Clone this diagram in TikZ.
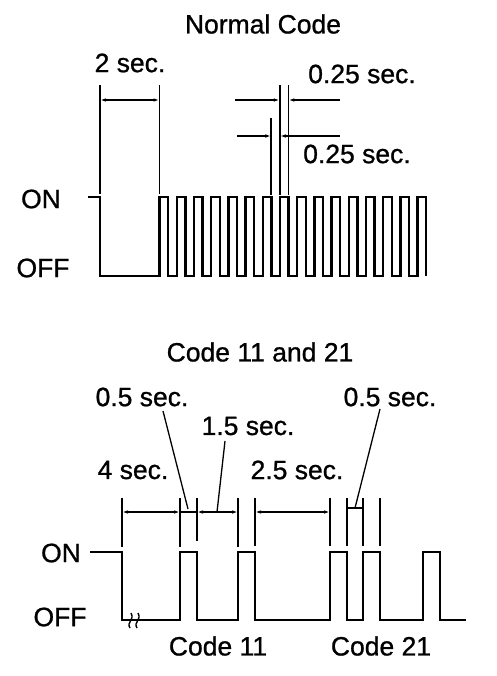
\documentclass[tikz,border=0pt]{standalone}
\usepackage{fontspec}
\setmainfont{Liberation Sans}[BoldFont=Liberation Sans, BoldFeatures={FakeBold=0.9}]
\usetikzlibrary{arrows.meta}
\tikzset{
  lbl/.style={inner sep=0pt, font=\fontsize{26.5}{30}\bfseries},
  wave/.style={line width=2.4pt, line join=miter},
  ext/.style={line width=1.5pt},
  dim/.style={line width=1.5pt, {Latex[length=6pt,width=3.5pt]}-{Latex[length=6pt,width=3.5pt]}},
  dimr/.style={line width=1.5pt, -{Latex[length=6pt,width=3.5pt]}},
  lead/.style={line width=1.3pt}
}
\begin{document}
\begin{tikzpicture}[x=1pt,y=-1pt]
\useasboundingbox (0,0) rectangle (496,676);
% ---------- Normal Code ----------
\node[lbl] (t1) at (263,24) {Normal Code};
\node[lbl] (s2) at (130,63) {2 sec.};
\node[lbl] (q1) at (362,74) {0.25 sec.};
\node[lbl] (q2) at (357,154) {0.25 sec.};
\node[lbl] (on1) at (41,199) {ON};
\node[lbl] (off1) at (43,268) {OFF};
% waveform
\draw[wave] (88,197) -- (100,197) -- (100,276) -- (159.5,276)
  \foreach \k in {0,...,14} { -- ++(0,-79) -- ++(8.6,0) -- ++(0,79) -- ++(8.6,0) }
  -- ++(0,-79) -- ++(8.6,0) -- ++(0,79);
% 2 sec dimension
\coordinate (a1) at (100,85); \coordinate (a2) at (100,194);
\coordinate (b1) at (159.5,85); \coordinate (b2) at (159.5,194);
\draw[ext] (a1) -- (a2);
\draw[ext] (b1) -- (b2);
\draw[dim] (100,100) -- (159.5,100);
% 0.25 sec markers
\coordinate (xa1) at (271.2,118); \coordinate (xa2) at (271.2,195);
\coordinate (xb1) at (279.8,85);  \coordinate (xb2) at (279.8,195);
\coordinate (xc1) at (288.4,85);  \coordinate (xc2) at (288.4,195);
\draw[ext] (xa1) -- (xa2);
\draw[ext] (xb1) -- (xb2);
\draw[ext] (xc1) -- (xc2);
\coordinate (u1) at (235,100); \coordinate (u2) at (279.8,100);
\coordinate (u3) at (340,100); \coordinate (u4) at (288.4,100);
\draw[dimr] (u1) -- (u2);
\draw[dimr] (u3) -- (u4);
\coordinate (l1) at (237,136); \coordinate (l2) at (271.2,136);
\coordinate (l3) at (340,136); \coordinate (l4) at (279.8,136);
\draw[dimr] (l1) -- (l2);
\draw[dimr] (l3) -- (l4);
% ---------- Code 11 and 21 ----------
\node[lbl] (t2) at (260,352) {Code 11 and 21};
\node[lbl] (h1) at (142,397) {0.5 sec.};
\node[lbl] (h2) at (248,426) {1.5 sec.};
\node[lbl] (h3) at (133,470) {4 sec.};
\node[lbl] (h4) at (297,470) {2.5 sec.};
\node[lbl] (h5) at (390,397) {0.5 sec.};
\node[lbl] (on2) at (61,553) {ON};
\node[lbl] (off2) at (60,617) {OFF};
\node[lbl] (c11) at (218,646) {Code 11};
\node[lbl] (c21) at (381,646) {Code 21};
% waveform
\draw[wave] (90,552) -- (122,552) -- (122,620) -- (180,620) -- (180,552) -- (197,552)
  -- (197,620) -- (238,620) -- (238,552) -- (255,552) -- (255,620)
  -- (330,620) -- (330,552) -- (347,552) -- (347,620) -- (363,620) -- (363,552)
  -- (380,552) -- (380,620) -- (423,620) -- (423,552) -- (440,552) -- (440,620) -- (466,620);
% break mark
\draw[line width=1.4pt] (130,628) .. controls (126,622) and (135,620) .. (131,613);
\draw[line width=1.4pt] (137,628) .. controls (133,622) and (142,620) .. (138,613);
% extension lines
\foreach \xx/\yb in {122/547,180/547,197/541,238/547,255/546,330/546,347/546,363/546,380/546}{
  \draw[ext] (\xx,498) -- (\xx,\yb);
}
% dimension lines
\draw[dim] (122,512) -- (180,512);
\draw[ext] (180,512) -- (197,512);
\draw[dim] (197,512) -- (238,512);
\draw[dim] (255,512) -- (330,512);
\draw[ext] (347,508) -- (363,508);
% leaders
\coordinate (k1) at (188,509);
\coordinate (k2) at (217,512);
\coordinate (k3) at (355,508);
\draw[lead] (163,411) -- (k1);
\draw[lead] (225,441) -- (k2);
\draw[lead] (380,409) -- (k3);
\end{tikzpicture}
\end{document}
